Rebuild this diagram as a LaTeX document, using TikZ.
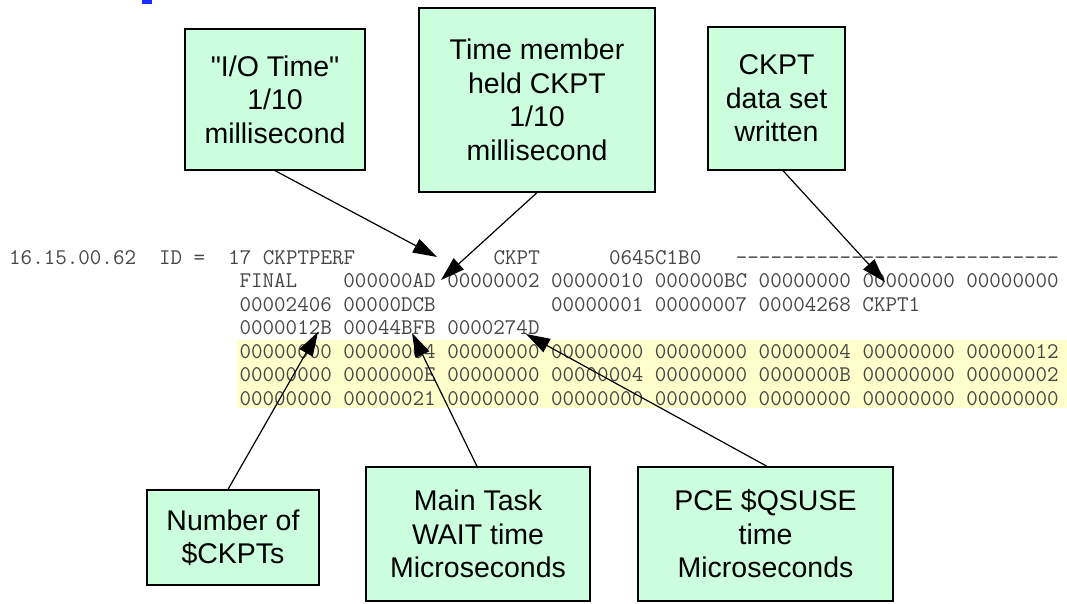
\documentclass[tikz,border=0pt]{standalone}
\usepackage{fontspec}
\setmainfont{Liberation Sans}[Ligatures=TeXOff]
\usetikzlibrary{arrows.meta,calc}
\definecolor{mint}{RGB}{204,255,222}
\definecolor{hilite}{RGB}{255,255,204}
\definecolor{dumpgray}{RGB}{70,70,70}
\definecolor{titleblue}{RGB}{26,44,255}
\tikzset{
  callout/.style={draw=black, line width=1.3pt, fill=mint, align=center,
    inner sep=0pt, font=\fontsize{28.5}{33.5}\selectfont},
  dumpline/.style={anchor=base west, inner sep=0pt, text=dumpgray,
    font=\ttfamily\fontsize{22.4}{23}\selectfont},
  pointer/.style={line width=1.2pt, -{Triangle[length=24pt,width=15pt]}}
}
\begin{document}
\begin{tikzpicture}[x=1pt,y=-1pt]
\useasboundingbox (0,0) rectangle (1067,603);

% fragment of the heading above
\fill[titleblue] (142,0) rectangle (152,4);

% highlighted block of the dump
\fill[hilite] (237,340) rectangle (1067,408);

% trace record dump
\node[dumpline] (l1) at (9,264) {16.15.00.62~~ID~=~~17~CKPTPERF~~~~~~~~~~~~CKPT~~~~~~0645C1B0~~~----------------------------};
\node[dumpline] (l2) at (239.4,287.5) {FINAL~~~~000000AD~00000002~00000010~000000BC~00000000~00000000~00000000};
\node[dumpline] (l3) at (239.4,311) {00002406~00000DCB~~~~~~~~~~00000001~00000007~00004268~CKPT1};
\node[dumpline] (l4) at (239.4,334.5) {0000012B~00044BFB~0000274D};
\node[dumpline] (l5) at (239.4,358) {00000000~00000004~00000000~00000000~00000000~00000004~00000000~00000012};
\node[dumpline] (l6) at (239.4,381.5) {00000000~0000000E~00000000~00000004~00000000~0000000B~00000000~00000002};
\node[dumpline] (l7) at (239.4,405) {00000000~00000021~00000000~00000000~00000000~00000000~00000000~00000000};

% callout boxes
\node[callout, minimum width=180pt, minimum height=141pt] (io) at (275,99.5)
  {"I/O Time"\\1/10\\millisecond};
\node[callout, minimum width=236pt, minimum height=184pt] (held) at (537,100)
  {Time member\\held CKPT\\1/10\\millisecond};
\node[callout, minimum width=137pt, minimum height=143pt] (ds) at (776.5,98.5)
  {CKPT\\data set\\written};
\node[callout, minimum width=172pt, minimum height=95pt] (num) at (233,537.5)
  {Number of\\\$CKPTs};
\node[callout, minimum width=224pt, minimum height=134pt] (wait) at (478,534)
  {Main Task\\WAIT time\\Microseconds};
\node[callout, minimum width=255pt, minimum height=134pt] (pce) at (765.5,534)
  {PCE \$QSUSE\\time\\Microseconds};

% targets of the pointers inside the dump
\coordinate (tIO) at (437,257);
\coordinate (tHeld) at (441,280);
\coordinate (tDS) at (885,282);
\coordinate (tNum) at (318,332);
\coordinate (tWait) at (412,333);
\coordinate (tPce) at (526,334);

\draw[pointer] (io.south) -- (tIO);
\draw[pointer] (held.south) -- (tHeld);
\draw[pointer] ($(ds.south)+(6.5,0)$) -- (tDS);
\draw[pointer] ($(num.north)+(-5,0)$) -- (tNum);
\draw[pointer] ($(wait.north)+(-1,0)$) -- (tWait);
\draw[pointer] ($(pce.north)+(1.5,0)$) -- (tPce);
\end{tikzpicture}
\end{document}
